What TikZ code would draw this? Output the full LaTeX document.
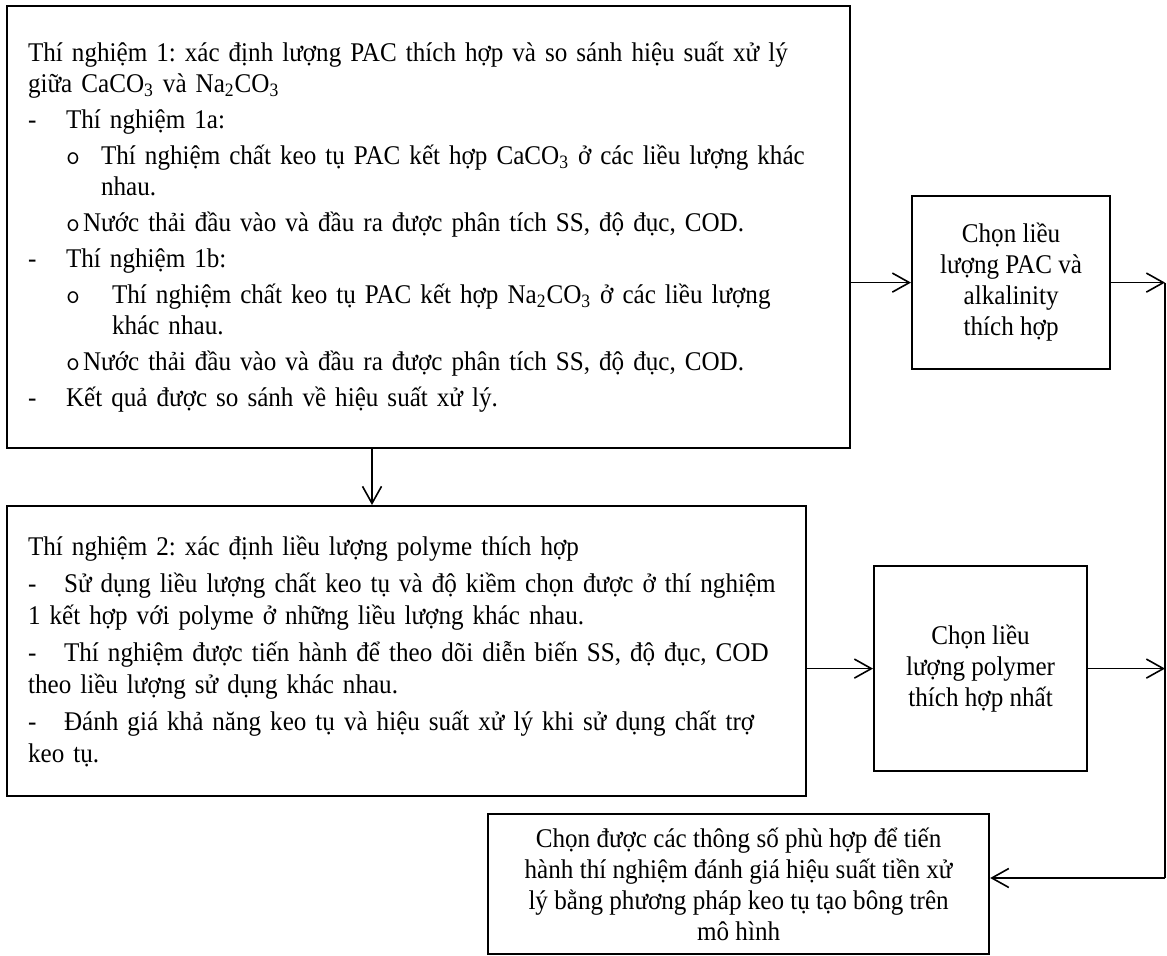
\documentclass[tikz,border=0pt]{standalone}
\usepackage{fontspec}
\setmainfont{Liberation Serif}[FakeStretch=0.93]
\usepackage{tikz}
\usetikzlibrary{arrows.meta,positioning}
\newcommand{\dashitem}{\makebox[19pt][l]{-}}
\newcommand{\circitem}[1]{\hspace*{19pt}\makebox[#1][l]{\ttfamily o}}
\tikzset{
  textbox/.style={draw,line width=1.1pt,rectangle,anchor=north west,
    align=left,inner xsep=10.5pt,inner ysep=0pt,
    font=\fontsize{13.5}{15.5}\selectfont\frenchspacing},
  choicebox/.style={draw,line width=1.1pt,rectangle,anchor=north west,
    align=center,inner sep=0pt,
    font=\fontsize{13.5}{15.5}\selectfont\frenchspacing},
  flow/.style={->,>={Straight Barb[length=8.5pt,width=9.5pt]},line width=0.8pt}
}
\begin{document}
\begin{tikzpicture}[x=1pt,y=-1pt]
          \useasboundingbox (0,0) rectangle (583.5,478);
          \node[textbox,minimum width=421.5pt,minimum height=221pt,text width=400.5pt] (exp1) at (3,2.5) {%
            Thí nghiệm 1: xác định lượng PAC thích hợp và so sánh hiệu suất xử lý\\
            giữa CaCO\textsubscript{3} và Na\textsubscript{2}CO\textsubscript{3}\\[2.5pt]
            \dashitem Thí nghiệm 1a:\\[2.5pt]
            \circitem{17.5pt}Thí nghiệm chất keo tụ PAC kết hợp CaCO\textsubscript{3} ở các liều lượng khác\\
            \hspace*{36.5pt}nhau.\\[2.5pt]
            \circitem{8.5pt}Nước thải đầu vào và đầu ra được phân tích SS, độ đục, COD.\\[2.5pt]
            \dashitem Thí nghiệm 1b:\\[2.5pt]
            \circitem{23pt}Thí nghiệm chất keo tụ PAC kết hợp Na\textsubscript{2}CO\textsubscript{3} ở các liều lượng\\
            \hspace*{42pt}khác nhau.\\[2.5pt]
            \circitem{8.5pt}Nước thải đầu vào và đầu ra được phân tích SS, độ đục, COD.\\[2.5pt]
            \dashitem Kết quả được so sánh về hiệu suất xử lý.};
          \node[textbox,minimum width=399.5pt,minimum height=145pt,text width=378.5pt,
            font=\fontsize{13.5}{16}\selectfont\frenchspacing] (exp2) at (3,252.5) {%
            Thí nghiệm 2: xác định liều lượng polyme thích hợp\\[2.5pt]
            \makebox[18pt][l]{-}Sử dụng liều lượng chất keo tụ và độ kiềm chọn được ở thí nghiệm\\
            1 kết hợp với polyme ở những liều lượng khác nhau.\\[2.5pt]
            \makebox[18pt][l]{-}Thí nghiệm được tiến hành để theo dõi diễn biến SS, độ đục, COD\\
            theo liều lượng sử dụng khác nhau.\\[2.5pt]
            \makebox[18pt][l]{-}Đánh giá khả năng keo tụ và hiệu suất xử lý khi sử dụng chất trợ\\
            keo tụ.};
          \node[choicebox,minimum width=99pt,minimum height=86.5pt] (pac) at (455.5,97.5)
            {Chọn liều\\lượng PAC và\\alkalinity\\thích hợp};
          \node[choicebox,minimum width=106.5pt,minimum height=102.5pt] (poly) at (436.5,282.5)
            {Chọn liều\\lượng polymer\\thích hợp nhất};
          \node[choicebox,minimum width=250.5pt,minimum height=70pt] (final) at (243.5,406.5)
            {Chọn được các thông số phù hợp để tiến\\hành thí nghiệm đánh giá hiệu suất tiền xử\\lý bằng phương pháp keo tụ tạo bông trên\\mô hình};
          \coordinate (drop) at (186,0);
          \coordinate (rail) at (582.5,439);
          \draw[flow] (exp1.south -| drop) -- (exp2.north -| drop);
          \draw[flow] (exp1.east |- pac.west) -- (pac.west);
          \draw[flow] (exp2.east |- poly.west) -- (poly.west);
          \draw[flow] (pac.east) -- (pac.east -| rail);
          \draw[flow] (poly.east) -- (poly.east -| rail);
          \draw[line width=0.8pt] (pac.east -| rail) -- (rail);
          \draw[flow] (rail) -- (rail -| final.east);
        \end{tikzpicture}
\end{document}
